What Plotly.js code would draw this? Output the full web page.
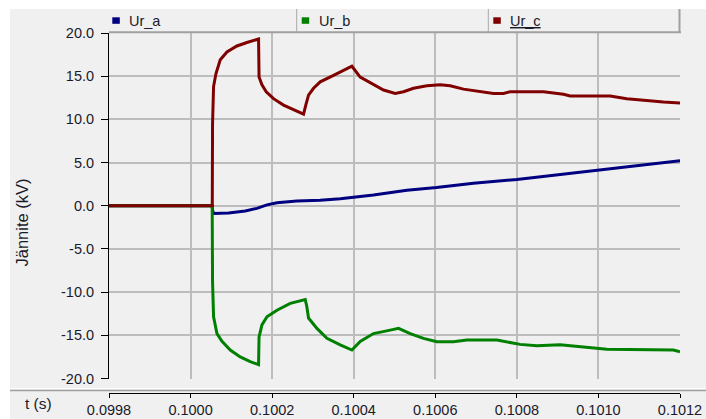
<!DOCTYPE html>
<html>
<head>
<meta charset="utf-8">
<script src="https://cdn.plot.ly/plotly-3.0.1.min.js"></script>
<style>html,body{margin:0;padding:0;background:#fff;}#chart{width:706px;height:419px;}</style>
</head>
<body>
<div id="chart"></div>
<script>
// ---- data (time in s, voltage in kV) ----
const seriesNames = ["Ur_a", "Ur_b", "Ur_c"];
const seriesColors = ["#000080", "#008000", "#800000"];

const tA = [0.0998, 0.1000530, 0.1000539, 0.1000564, 0.1000931, 0.1001341, 0.1001627, 0.1001873, 0.1002118,
            0.1002608, 0.1003179, 0.1003669, 0.1004485, 0.1005304, 0.1006029, 0.1006936, 0.1008000,
            0.1008652, 0.1010000, 0.1011103, 0.1012];
const urA = [0, 0, -0.5, -0.9, -0.85, -0.6, -0.3, 0.1, 0.35,
             0.55, 0.65, 0.8, 1.25, 1.8, 2.1, 2.6, 3.05,
             3.4, 4.15, 4.7, 5.2];

const tB = [0.0998, 0.1000530, 0.1000539, 0.1000564, 0.1000647, 0.1000770, 0.1000973, 0.1001218, 0.1001463,
            0.1001667, 0.1001679, 0.1001750, 0.1001873, 0.1002118, 0.1002444, 0.1002811, 0.1002848,
            0.1002892, 0.1003098, 0.1003343, 0.1003669, 0.1003956, 0.1004159, 0.1004485, 0.1004895,
            0.1005098, 0.1005385, 0.1005711, 0.1006039, 0.1006446, 0.1006775, 0.1007510, 0.1008081,
            0.1008490, 0.1009061, 0.1009797, 0.1010206, 0.1011838, 0.1012];
const urB = [0, 0, -8.8, -12.85, -14.8, -15.7, -16.7, -17.5, -18.05,
             -18.4, -15.2, -13.8, -12.85, -12.1, -11.3, -10.85, -11.6,
             -13.0, -14.2, -15.35, -16.1, -16.7, -15.7, -14.8, -14.4,
             -14.2, -14.8, -15.35, -15.75, -15.75, -15.55, -15.55, -16.05,
             -16.2, -16.1, -16.4, -16.6, -16.7, -16.9];

const tC = [0.0998, 0.1000532, 0.1000539, 0.1000564, 0.1000623, 0.1000728, 0.1000892, 0.1001137, 0.1001382,
            0.1001667, 0.1001679, 0.1001750, 0.1001855, 0.1002034, 0.1002279, 0.1002525, 0.1002770,
            0.1002836, 0.1002892, 0.1003015, 0.1003179, 0.1003505, 0.1003750, 0.1003956, 0.1004159,
            0.1004485, 0.1004731, 0.1005017, 0.1005221, 0.1005466, 0.1005794, 0.1006120, 0.1006365,
            0.1006691, 0.1007100, 0.1007427, 0.1007672, 0.1007836, 0.1008652, 0.1008816, 0.1009142,
            0.1009307, 0.1010287, 0.1010696, 0.1011103, 0.1011593, 0.1012];
const urC = [0, 0, 9.5, 13.8, 15.3, 16.9, 17.8, 18.5, 18.9,
             19.3, 14.9, 14.0, 13.2, 12.4, 11.65, 11.1, 10.6,
             11.85, 12.8, 13.6, 14.35, 15.1, 15.7, 16.15, 14.9,
             14.0, 13.4, 13.0, 13.2, 13.6, 13.9, 14.0, 13.9,
             13.5, 13.2, 13.0, 13.0, 13.2, 13.2, 13.1, 12.9,
             12.7, 12.7, 12.4, 12.2, 12.0, 11.9];

const xTicks = [0.0998, 0.1000, 0.1002, 0.1004, 0.1006, 0.1008, 0.1010, 0.1012];
const yTicks = [-20, -15, -10, -5, 0, 5, 10, 15, 20];
const yTitle = "Jännite (kV)";
const xTitle = "t (s)";

// ---- layout geometry (pixels) ----
const W = 706, H = 419;
const L = 109, R = 680, T = 33, B = 393; // paper area
const plotBottom = 378.5;
const px2x = p => (p - L) / (R - L);
const py2y = p => (B - p) / (B - T);
const FONT = "Liberation Sans, Arial, sans-serif";

const traces = [
  {x: tA, y: urA, name: seriesNames[0]},
  {x: tB, y: urB, name: seriesNames[1]},
  {x: tC, y: urC, name: seriesNames[2]}
].map((t, i) => Object.assign(t, {
  type: "scatter", mode: "lines",
  line: {color: seriesColors[i], width: 3},
  showlegend: false, hoverinfo: "skip"
}));

const shapes = [
  // outer gray panel
  {type: "rect", xref: "paper", yref: "paper", layer: "below",
   x0: px2x(10), x1: px2x(W + 2), y0: py2y(9), y1: py2y(H + 2),
   fillcolor: "#f0f0f0", line: {width: 0}},
  // separator above x axis
  {type: "line", xref: "paper", yref: "paper", x0: px2x(10), x1: px2x(W), y0: py2y(388.5), y1: py2y(388.5),
   line: {color: "#ffffff", width: 1}},
  {type: "line", xref: "paper", yref: "paper", x0: px2x(10), x1: px2x(W), y0: py2y(390.5), y1: py2y(390.5),
   line: {color: "#a0a0a0", width: 1.5}},
  // legend bar borders
  {type: "line", xref: "paper", yref: "paper", x0: px2x(L), x1: px2x(R + 1), y0: py2y(32.3), y1: py2y(32.3),
   line: {color: "#a0a0a0", width: 2}},
  {type: "line", xref: "paper", yref: "paper", x0: px2x(679.5), x1: px2x(679.5), y0: py2y(9), y1: py2y(33),
   line: {color: "#a0a0a0", width: 2}},
  {type: "line", xref: "paper", yref: "paper", x0: px2x(296.7), x1: px2x(296.7), y0: py2y(9), y1: py2y(32),
   line: {color: "#a8a8a8", width: 1}},
  {type: "line", xref: "paper", yref: "paper", x0: px2x(488.3), x1: px2x(488.3), y0: py2y(9), y1: py2y(32),
   line: {color: "#a8a8a8", width: 1}}
];

const legendPos = [[112.3, 127.3], [301.7, 316.7], [493.3, 508.3]];
const annotations = [];
seriesNames.forEach((n, i) => {
  shapes.push({type: "rect", xref: "paper", yref: "paper",
    x0: px2x(legendPos[i][0]), x1: px2x(legendPos[i][0] + 7.5),
    y0: py2y(17.3), y1: py2y(23.8), fillcolor: seriesColors[i], line: {width: 0}});
  annotations.push({xref: "paper", yref: "paper", x: px2x(legendPos[i][1]), y: py2y(21),
    xanchor: "left", yanchor: "middle", showarrow: false,
    text: i === 2 ? "<u>" + n + "</u>" : n,
    font: {family: FONT, size: 14.5, color: "#1a1a2a"}});
});
annotations.push({xref: "paper", yref: "paper", x: px2x(21), y: py2y(222.5),
  xanchor: "center", yanchor: "middle", showarrow: false, textangle: -90,
  text: yTitle, font: {family: FONT, size: 16.5, color: "#1a1a2a"}});
annotations.push({xref: "paper", yref: "paper", x: px2x(38.7), y: py2y(403.5),
  xanchor: "center", yanchor: "middle", showarrow: false,
  text: xTitle, font: {family: FONT, size: 15.5, color: "#1a1a2a"}});

const layout = {
  width: W, height: H,
  margin: {l: L, r: W - R, t: T, b: H - B, pad: 0},
  paper_bgcolor: "#ffffff",
  plot_bgcolor: "#fdf9ee",
  showlegend: false,
  font: {family: FONT, size: 14.5, color: "#1a1a2a"},
  xaxis: {
    range: [0.0998, 0.1012], anchor: "free", position: 0,
    tickvals: xTicks, ticktext: xTicks.map(v => v.toFixed(4)),
    ticks: "outside", ticklen: 4, tickcolor: "#000", tickwidth: 1,
    showline: true, linecolor: "#000", linewidth: 1,
    showgrid: true, gridcolor: "#bdbdbd", gridwidth: 2,
    zeroline: false, fixedrange: true, ticklabelstandoff: 0
  },
  yaxis: {
    range: [-20, 20], domain: [py2y(plotBottom), 1],
    tickvals: yTicks, ticktext: yTicks.map(v => v.toFixed(1)),
    ticks: "outside", ticklen: 7, tickcolor: "#000", tickwidth: 1,
    showline: true, linecolor: "#000", linewidth: 1,
    showgrid: true, gridcolor: "#bdbdbd", gridwidth: 2,
    zeroline: false, fixedrange: true, ticklabelstandoff: 4
  },
  shapes: shapes,
  annotations: annotations
};

Plotly.newPlot("chart", traces, layout, {staticPlot: true, displayModeBar: false});
</script>
</body>
</html>
